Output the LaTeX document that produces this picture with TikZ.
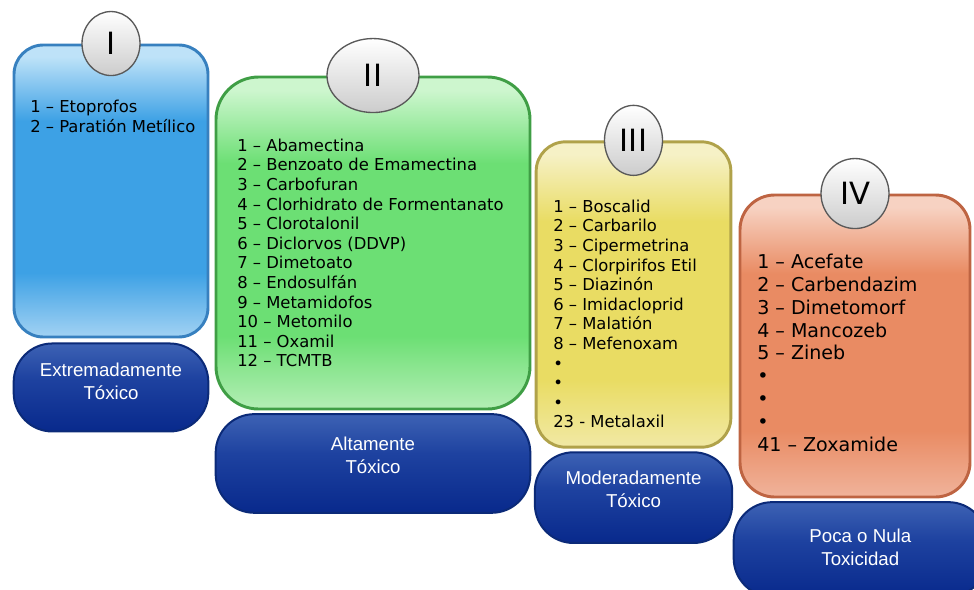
\documentclass[tikz,border=0pt]{standalone}
\usepackage{fontspec}
\setmainfont{DejaVu Sans}
\newfontfamily\pillfont{Liberation Sans}
\usepackage{xcolor}
\usepackage{tikz}
\usetikzlibrary{positioning,shapes.geometric}

\definecolor{mainI}{HTML}{3DA1E5}
\definecolor{topI}{HTML}{BEE2F8}
\definecolor{botI}{HTML}{A2D2F3}
\definecolor{edgeI}{HTML}{3780BF}
\definecolor{mainII}{HTML}{6CDF74}
\definecolor{topII}{HTML}{CDF6CE}
\definecolor{botII}{HTML}{B4EEB5}
\definecolor{edgeII}{HTML}{3F9E45}
\definecolor{mainIII}{HTML}{E9DC63}
\definecolor{topIII}{HTML}{F6F1C6}
\definecolor{botIII}{HTML}{F1E9A5}
\definecolor{edgeIII}{HTML}{B0A24A}
\definecolor{mainIV}{HTML}{E98B63}
\definecolor{topIV}{HTML}{F7D2C2}
\definecolor{botIV}{HTML}{F0B39B}
\definecolor{edgeIV}{HTML}{BE6442}
\definecolor{pillTop}{HTML}{3D62B4}
\definecolor{pillMid}{HTML}{1E42A0}
\definecolor{pillBot}{HTML}{08298C}
\definecolor{pillEdge}{HTML}{0B2A78}

% glossy fill: name, main, top, bottom
\newcommand{\glossy}[4]{\pgfdeclareverticalshading{#1}{100bp}{color(0bp)=(#4); color(25bp)=(#4); color(36bp)=(#2); color(62bp)=(#2); color(73bp)=(#3); color(100bp)=(#3)}}
\glossy{glossI}{mainI}{topI}{botI}
\glossy{glossII}{mainII}{topII}{botII}
\glossy{glossIII}{mainIII}{topIII}{botIII}
\glossy{glossIV}{mainIV}{topIV}{botIV}
\pgfdeclareverticalshading{pillshade}{100bp}{color(0bp)=(pillBot); color(25bp)=(pillBot); color(55bp)=(pillMid); color(75bp)=(pillTop); color(100bp)=(pillTop)}

\tikzstyle{tox-panel}=[rectangle, line width=2.2pt, inner sep=0pt]
\tikzstyle{class-pill}=[rectangle, rounded corners=29pt, shading=pillshade, draw=pillEdge, line width=1.5pt]
\tikzstyle{pill-text}=[text=white, align=center, inner sep=0pt, font=\pillfont\fontsize{14}{17}\selectfont]
\tikzstyle{class-badge}=[ellipse, top color=white, middle color=black!6, bottom color=black!20, draw=black!65, line width=1pt, inner sep=0pt, font=\fontsize{23}{23}\selectfont]
\tikzstyle{item-list}=[anchor=north west, align=left, inner sep=0pt, font=\fontsize{12.3}{14.7}\selectfont]

\begin{document}
\begin{tikzpicture}[x=0.75pt, y=-0.75pt]
  \useasboundingbox (0,0) rectangle (974,589);
  \clip (0,0) rectangle (974,589);

  \node[tox-panel, shading=glossI, draw=edgeI, rounded corners=22pt, minimum width=145.5pt, minimum height=219pt] (panelI) at (111,191) {};
  \node[tox-panel, shading=glossII, draw=edgeII, rounded corners=32pt, minimum width=235.5pt, minimum height=249pt] (panelII) at (373,243) {};
  \node[tox-panel, shading=glossIII, draw=edgeIII, rounded corners=22pt, minimum width=146pt, minimum height=229pt] (panelIII) at (633.5,294.5) {};
  \node[tox-panel, shading=glossIV, draw=edgeIV, rounded corners=26pt, minimum width=172.5pt, minimum height=226.5pt] (panelIV) at (855,346) {};

  \node[class-pill, minimum width=146pt, minimum height=66pt] (pillI) [below=3pt of panelI] {};
  \node[class-pill, minimum width=236pt, minimum height=74pt] (pillII) [below=2pt of panelII] {};
  \node[class-pill, minimum width=148pt, minimum height=68pt] (pillIII) [below=2pt of panelIII] {};
  \node[class-pill, minimum width=190pt, minimum height=71pt] (pillIV) [below=2pt of panelIV, xshift=4pt] {};

  \node[pill-text] (nameI) at ([yshift=4.5pt]pillI.center) {Extremadamente\\Tóxico};
  \node[pill-text] (nameII) at ([yshift=6pt]pillII.center) {Altamente\\Tóxico};
  \node[pill-text] (nameIII) at ([yshift=6pt]pillIII.center) {Moderadamente\\Tóxico};
  \node[pill-text] (nameIV) at ([yshift=1.5pt]pillIV.center) {Poca o Nula\\Toxicidad};

  \node[class-badge, minimum width=43.5pt, minimum height=48pt] (badgeI) at (panelI.north) {I};
  \node[class-badge, minimum width=69pt, minimum height=55.5pt] (badgeII) at (panelII.north) {II};
  \node[class-badge, minimum width=43.5pt, minimum height=52.5pt] (badgeIII) at (panelIII.north) {III};
  \node[class-badge, minimum width=51pt, minimum height=52.5pt] (badgeIV) at (panelIV.north) {IV};

  \node[item-list] (listI) at (30,100) {1 – Etoprofos\\2 – Paratión Metílico};
  \node[item-list] (listII) at (237,138.5) {1 – Abamectina\\2 – Benzoato de Emamectina\\3 – Carbofuran\\4 – Clorhidrato de Formentanato\\5 – Clorotalonil\\6 – Diclorvos (DDVP)\\7 – Dimetoato\\8 – Endosulfán\\9 – Metamidofos\\10 – Metomilo\\11 – Oxamil\\12 – TCMTB};
  \node[item-list] (listIII) at (553,199.5) {1 – Boscalid\\2 – Carbarilo\\3 – Cipermetrina\\4 – Clorpirifos Etil\\5 – Diazinón\\6 – Imidacloprid\\7 – Malatión\\8 – Mefenoxam\\•\\•\\•\\23 - Metalaxil};
  \node[item-list, font=\fontsize{14.3}{17.2}\selectfont] (listIV) at (757,253.5) {1 – Acefate\\2 – Carbendazim\\3 – Dimetomorf\\4 – Mancozeb\\5 – Zineb\\•\\•\\•\\41 – Zoxamide};
\end{tikzpicture}
\end{document}
